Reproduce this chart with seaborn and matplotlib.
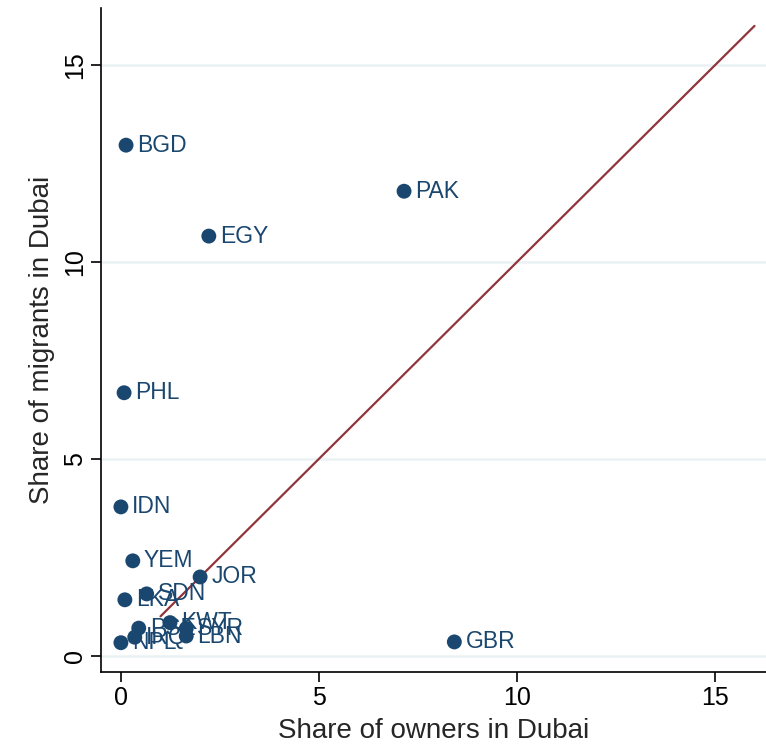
import matplotlib
matplotlib.use("Agg")
import matplotlib.pyplot as plt
import numpy as np
import pandas as pd
import seaborn as sns

## ===================== data =====================

countries = ["BGD", "PAK", "EGY", "PHL", "IDN", "YEM", "JOR", "SDN", "LKA",
             "PSE", "IRQ", "KWT", "SYR", "LBN", "NPL", "GBR"]
owners = [0.13, 7.15, 2.22, 0.08, 0.0, 0.30, 2.00, 0.65, 0.10,
          0.45, 0.35, 1.24, 1.65, 1.65, 0.0, 8.42]
migrants = [12.97, 11.80, 10.66, 6.68, 3.78, 2.41, 2.00, 1.57, 1.42,
            0.70, 0.47, 0.84, 0.69, 0.50, 0.33, 0.35]

# 45 degree reference line
line_x = [1, 16]
line_y = [1, 16]

ticks = [0, 5, 10, 15]

## ===================== draw =====================

sns.set_style("white")
plt.rcParams["font.family"] = ["Liberation Sans", "DejaVu Sans"]

navy = "#1a476f"
maroon = "#90353b"

df = pd.DataFrame({"Country": countries, "Owners": owners, "Migrants": migrants})

fig = plt.figure(figsize=(7.66, 7.44), dpi=100)
ax = fig.add_axes([0.132, 0.097, 0.868, 0.892])

for t in ticks:
    ax.axhline(t, color="#eaf2f3", lw=1.8, zorder=0)

ax.plot(line_x, line_y, color=maroon, lw=1.6, zorder=2)

sns.scatterplot(data=df, x="Owners", y="Migrants", ax=ax, color=navy,
                s=115, edgecolor="none", zorder=3, legend=False)

for c, xv, yv in zip(countries, owners, migrants):
    ax.annotate(c, (xv, yv), xytext=(8, 0), textcoords="offset points",
                va="center", ha="left", fontsize=16.5, color=navy, zorder=4)

ax.set_xlim(-0.5, 16.29)
ax.set_ylim(-0.41, 16.45)
ax.set_xticks(ticks)
ax.set_yticks(ticks)
ax.tick_params(axis="both", direction="out", length=7, width=1.2,
               labelsize=18, colors="black", left=True, bottom=True, pad=3)
plt.setp(ax.get_yticklabels(), rotation=90, va="center")

for side in ["top", "right"]:
    ax.spines[side].set_visible(False)
for side in ["left", "bottom"]:
    ax.spines[side].set_color("black")
    ax.spines[side].set_linewidth(1.2)

ax.set_xlabel("Share of owners in Dubai", fontsize=20, labelpad=6)
ax.set_ylabel("Share of migrants in Dubai", fontsize=20, labelpad=6)

fig.savefig("out.png", dpi=100)
